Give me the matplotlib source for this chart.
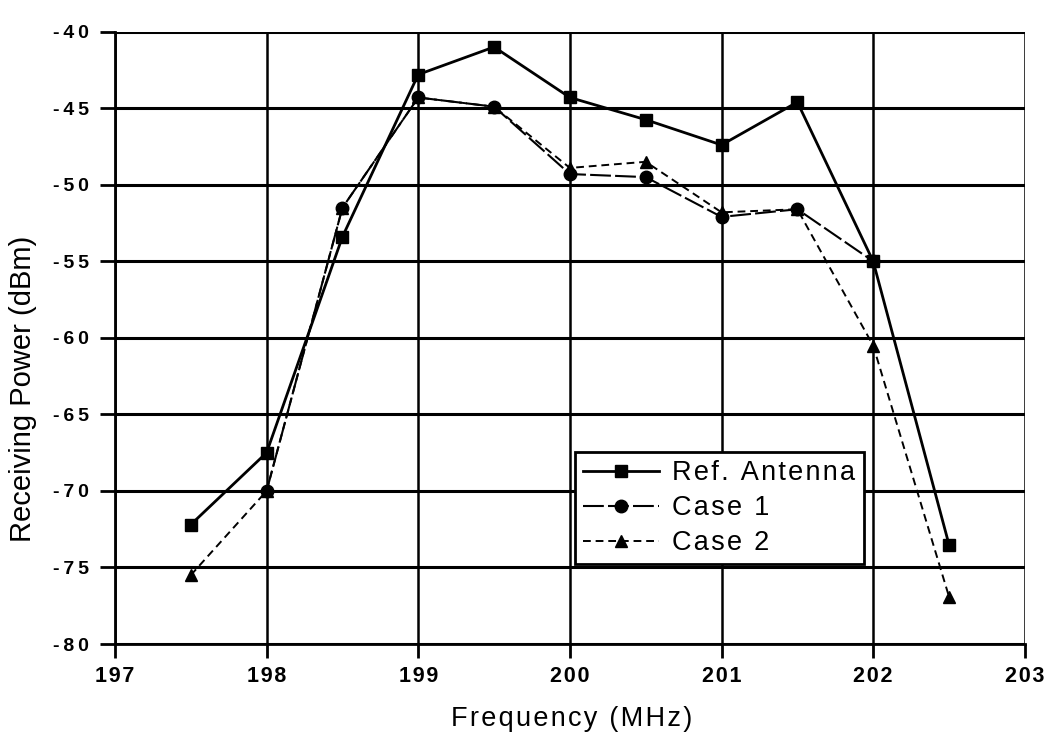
import numpy as np
import matplotlib.pyplot as plt

plt.rcParams['font.family'] = ['Liberation Sans', 'DejaVu Sans']

# values
freq_ref = [197.5, 198, 198.5, 199, 199.5, 200, 200.5, 201, 201.5, 202, 202.5]
ref_antenna = [-72.2, -67.5, -53.4, -42.8, -41.0, -44.3, -45.75, -47.4, -44.6, -55.0, -73.5]

freq_case1 = [198, 198.5, 199, 199.5, 200, 200.5, 201, 201.5, 202]
case1 = [-70.0, -51.5, -44.3, -44.9, -49.3, -49.5, -52.1, -51.6, -55.0]

freq_case2 = [197.5, 198, 198.5, 199, 199.5, 200, 200.5, 201, 201.5, 202, 202.5]
case2 = [-75.5, -70.0, -51.5, -44.3, -44.9, -48.9, -48.5, -51.8, -51.6, -60.5, -76.9]

x_ticks = [197, 198, 199, 200, 201, 202, 203]
y_ticks = [-80, -75, -70, -65, -60, -55, -50, -45, -40]

series_names = ['Ref. Antenna', 'Case 1', 'Case 2']


def spaced(s, sep='\u2009'):
    # the original figure uses widely tracked lettering
    return sep.join(s)


fig = plt.figure(figsize=(10.5, 7.4), dpi=100)
ax = fig.add_axes([0.1095, 0.1297, 0.8665, 0.8275])

ax.plot(freq_ref, ref_antenna, color='black', lw=2.0, marker='s', ms=9,
        label=spaced(series_names[0], '\u200a'), zorder=3)
ax.plot(freq_case1, case1, color='black', lw=1.5, dashes=(10, 2), marker='o', ms=9,
        label=spaced(series_names[1], '\u200a'), zorder=4)
ax.plot(freq_case2, case2, color='black', lw=1.4, dashes=(4, 2.5), marker='^', ms=9,
        label=spaced(series_names[2], '\u200a'), zorder=5)

ax.set_xlim(197, 203)
ax.set_ylim(-80, -40)
ax.set_xticks(x_ticks)
ax.set_yticks(y_ticks)
ax.set_xticklabels([spaced(str(t), '\u200a') for t in x_ticks], fontsize=15.5, weight='bold')
ax.set_yticklabels([spaced(str(t)) for t in y_ticks], fontsize=14, weight='bold')

ax.grid(axis='y', color='black', lw=2.2)
ax.grid(axis='x', color='black', lw=1.8)
ax.set_axisbelow(True)
for side in ['top', 'right']:
    ax.spines[side].set_visible(False)
ax.spines['left'].set_linewidth(2)
ax.spines['bottom'].set_linewidth(2)
ax.tick_params(axis='y', direction='out', length=11, width=2, pad=7.5)
ax.tick_params(axis='x', direction='out', length=10, width=2, pad=5.5)

ax.set_xlabel(spaced('Frequency (MHz)', '\u200a'), fontsize=19.5)
ax.set_ylabel('Receiving Power (dBm)', fontsize=21)
ax.xaxis.set_label_coords(0.5016, -0.101)
ax.yaxis.set_label_coords(-0.0857, 0.4165)

leg = ax.legend(loc='lower left', bbox_to_anchor=(0.5055, 0.13), fontsize=19.5,
                frameon=True, fancybox=False, edgecolor='black', framealpha=1,
                handlelength=2.8, borderpad=0.3, labelspacing=0.33, handletextpad=0.5,
                borderaxespad=0)
leg.get_frame().set_linewidth(2)

fig.savefig('out.png', dpi=100)
